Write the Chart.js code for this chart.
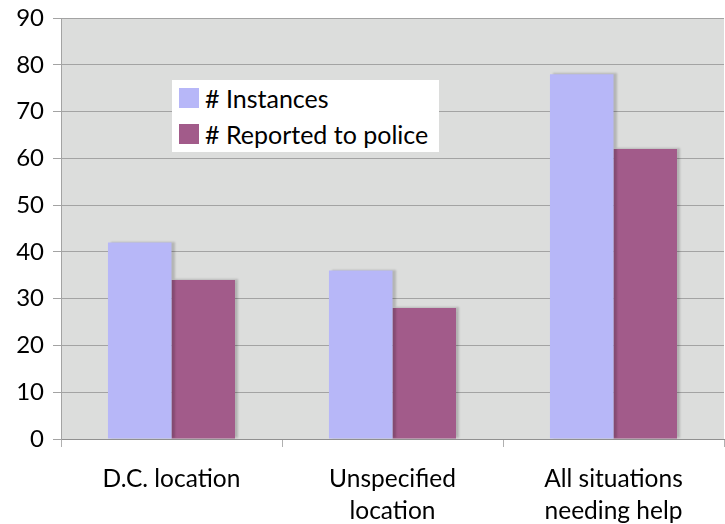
<!DOCTYPE html>
<html>
<head>
<meta charset="utf-8">
<script src="https://cdn.jsdelivr.net/npm/chart.js@4"></script>
<style>
  html, body { margin: 0; padding: 0; background: #fff; }
  #wrap { position: relative; width: 725px; height: 524px; }
  #legend {
    position: absolute; left: 172px; top: 80px; width: 267px; height: 72px;
    background: #fff; font-family: Lato, "Open Sans", sans-serif; font-size: 25px; color: #000;
    box-sizing: border-box; padding: 0 0 0 7px;
  }
  .item { display: flex; align-items: center; height: 36px; white-space: nowrap; }
  .sw { width: 20px; height: 20px; margin-right: 6px; flex: none; }
</style>
</head>
<body>
<div id="wrap">
  <canvas id="chart" width="725" height="524"></canvas>
  <div id="legend"></div>
</div>
<script>
// chart data
const categories = [['D.C. location'], ['Unspecified', 'location'], ['All situations', 'needing help']];
const seriesNames = ['# Instances', '# Reported to police'];
const instances = [42, 36, 78];
const reported = [34, 28, 62];
const yTicks = [0, 10, 20, 30, 40, 50, 60, 70, 80, 90];

const colors = ['#b7b7f8', '#a25b8a'];

// light drop shadow behind the bars, like the original
const barShadow = {
  id: 'barShadow',
  beforeDatasetsDraw(chart) {
    const ctx = chart.ctx;
    ctx.save();
    ctx.shadowColor = 'rgba(0,0,0,0.18)';
    ctx.shadowOffsetX = 3;
    ctx.shadowOffsetY = -1;
    ctx.shadowBlur = 2;
  },
  afterDatasetsDraw(chart) {
    chart.ctx.restore();
  }
};

const plotBg = {
  id: 'plotBg',
  beforeDraw(chart) {
    const { ctx, chartArea: a } = chart;
    ctx.save();
    ctx.fillStyle = '#dcdddc';
    ctx.fillRect(a.left, a.top, a.right - a.left, a.bottom - a.top);
    ctx.restore();
  }
};

const font = { family: 'Lato, "Open Sans", sans-serif', size: 24.5, lineHeight: 1.3 };

new Chart(document.getElementById('chart'), {
  type: 'bar',
  data: {
    labels: categories,
    datasets: [
      { label: seriesNames[0], data: instances, backgroundColor: colors[0] },
      { label: seriesNames[1], data: reported, backgroundColor: colors[1] }
    ]
  },
  options: {
    responsive: false,
    animation: false,
    layout: { padding: { top: 18, right: 1, left: 0, bottom: 0 } },
    datasets: { bar: { categoryPercentage: 0.575, barPercentage: 1 } },
    scales: {
      x: {
        grid: { drawOnChartArea: false, offset: true, tickLength: 8, color: '#b0b0b0' },
        border: { color: '#909090', width: 1 },
        ticks: { font: font, color: '#000', padding: 16, maxRotation: 0 },
        afterFit(scale) { scale.height = 85; }
      },
      y: {
        min: 0, max: 90,
        afterBuildTicks(scale) { scale.ticks = yTicks.map(v => ({ value: v })); },
        grid: { color: '#a3a3a3', tickLength: 8 },
        border: { color: '#a3a3a3' },
        ticks: { font: { family: font.family, size: 24 }, color: '#000', padding: 9 },
        afterFit(scale) { scale.width = 61; scale.paddingTop = 0; scale.paddingBottom = 0; }
      }
    },
    plugins: {
      legend: { display: false },
      tooltip: { enabled: false }
    }
  },
  plugins: [plotBg, barShadow]
});

// legend drawn as html, sitting inside the plot area
const legend = document.getElementById('legend');
seriesNames.forEach((name, i) => {
  const row = document.createElement('div');
  row.className = 'item';
  row.innerHTML = '<span class="sw" style="background:' + colors[i] + '"></span><span>' + name + '</span>';
  legend.appendChild(row);
});
</script>
</body>
</html>
